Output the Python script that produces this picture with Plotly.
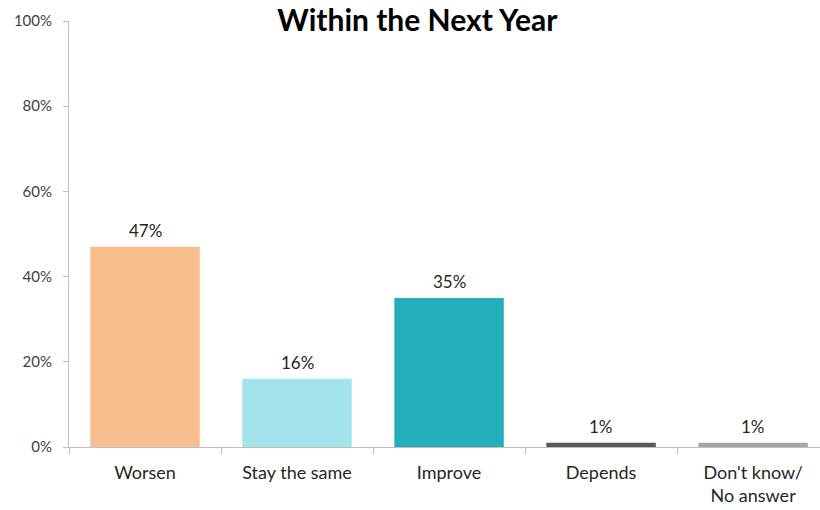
import plotly.graph_objects as go

categories = ["Worsen", "Stay the same", "Improve", "Depends", "Don't know/<br>No answer"]
values = [47, 16, 35, 1, 1]
colors = ["#F9BE8E", "#A3E4EB", "#22AFB9", "#595959", "#A6A6A6"]

fig = go.Figure(
    go.Bar(
        x=categories,
        y=values,
        marker=dict(color=colors, line=dict(width=0)),
        width=0.72,
        cliponaxis=False,
        hoverinfo="skip",
    )
)

# value labels sitting above each bar
for cat, val in zip(categories, values):
    fig.add_annotation(
        x=cat,
        y=val,
        text=f"{val}%",
        showarrow=False,
        yanchor="middle",
        yshift=16,
        font=dict(family="Lato", size=17, color="#262626"),
    )

fig.update_layout(
    width=820,
    height=510,
    margin=dict(l=69, r=0, t=21, b=63),
    paper_bgcolor="white",
    plot_bgcolor="white",
    showlegend=False,
    font=dict(family="Lato", color="#404040"),
    title=dict(
        text="<b>Within the Next Year</b>",
        x=0.509,
        xanchor="center",
        xref="container",
        y=0.96,
        yanchor="middle",
        yref="container",
        font=dict(family="Lato", size=30, color="#000000"),
    ),
    xaxis=dict(
        type="category",
        range=[-0.5, 4.44],
        showline=True,
        linecolor="#BFBFBF",
        linewidth=1,
        ticks="outside",
        tickson="boundaries",
        ticklen=6,
        tickcolor="#BFBFBF",
        showgrid=False,
        ticklabelstandoff=9,
        tickfont=dict(family="Lato", size=18, color="#262626"),
        fixedrange=True,
    ),
    yaxis=dict(
        range=[0, 100],
        dtick=20,
        ticksuffix="%",
        showline=True,
        linecolor="#BFBFBF",
        linewidth=1,
        ticks="outside",
        ticklen=5,
        tickcolor="#BFBFBF",
        showgrid=False,
        zeroline=False,
        ticklabelstandoff=8,
        tickfont=dict(family="Lato", size=15, color="#404040"),
        fixedrange=True,
    ),
)

fig.write_html("out.html")
